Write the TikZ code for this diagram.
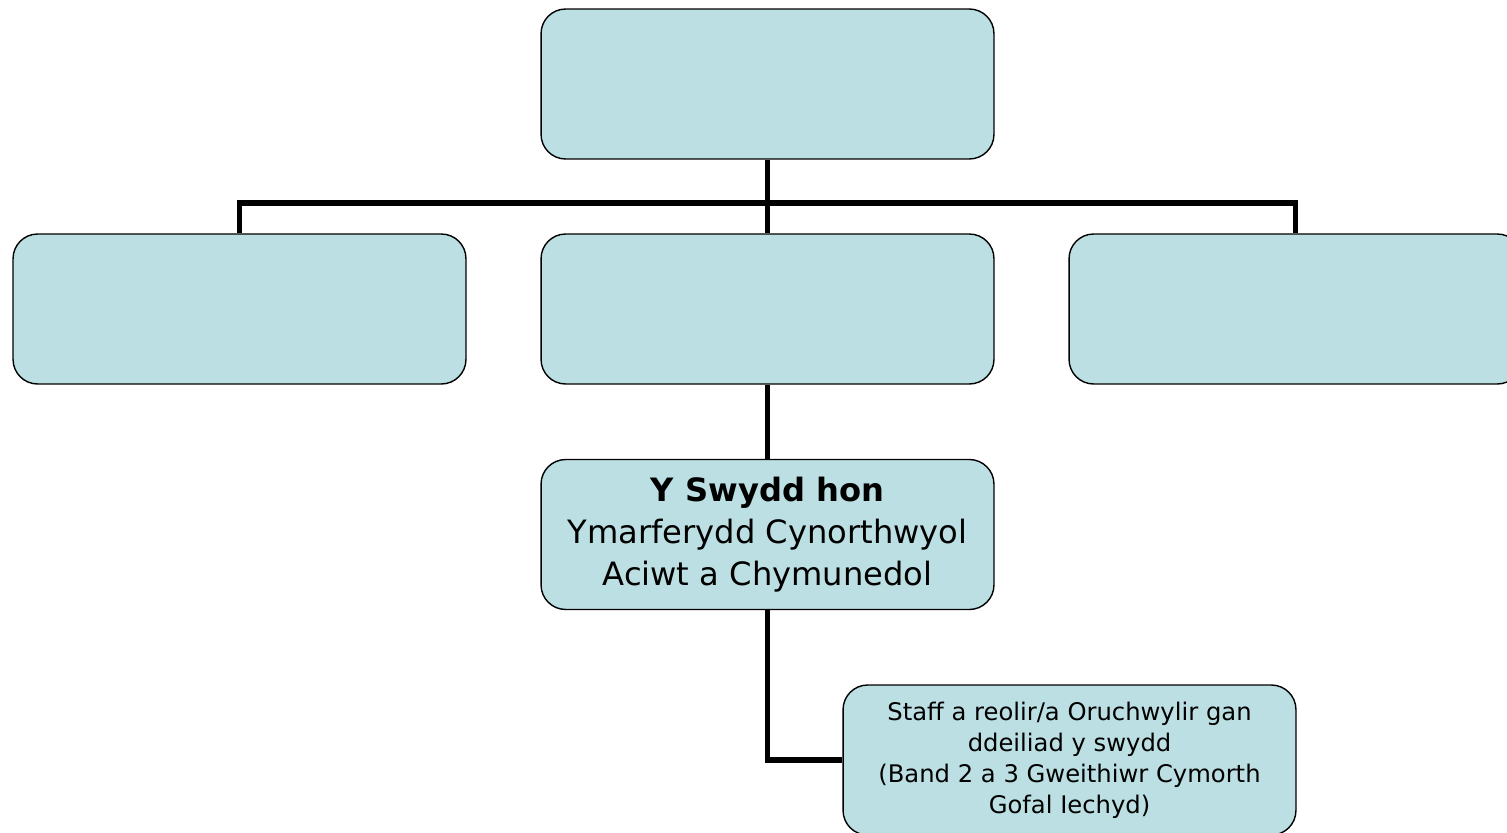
\documentclass[tikz,border=0pt]{standalone}
\usepackage{fontspec}
\setmainfont{DejaVu Sans}
\usepackage{xcolor}
\usepackage{tikz}
\usetikzlibrary{positioning, calc}
\definecolor{boxfill}{HTML}{BBDFE2}
\tikzset{
	orgbox/.style={draw, line width=0.8pt, fill=boxfill, rounded corners=14pt,
		minimum width=9.06cm, minimum height=3cm, align=center, inner sep=0pt},
	orgline/.style={line width=3.2pt, line join=miter}
}

\begin{document}
\begin{tikzpicture}[x=0.02cm, y=-0.02cm]
	\useasboundingbox (0,0) rectangle (1507,832);
	\coordinate (bar) at (767.5,203);
	\node[orgbox] (top) at (767.5,84) {};
	\node[orgbox] (left) at (239.5,309) {};
	\node[orgbox] (mid) at (767.5,309) {};
	\node[orgbox] (right) at (1295.5,309) {};
	\node[orgbox, font=\fontsize{18.3}{23.8}\selectfont] (swydd) at (767.5,534.5)
		{\textbf{Y Swydd hon}\\Ymarferydd Cynorthwyol\\Aciwt a Chymunedol};
	\node[orgbox, font=\fontsize{13.8}{17.6}\selectfont] (staff) at (1069.5,760)
		{Staff a reolir/a Oruchwylir gan\\ddeiliad y swydd\\(Band 2 a 3 Gweithiwr Cymorth\\Gofal Iechyd)};
	% connectors
	\draw[orgline] (top.south) -- (mid.north);
	\draw[orgline] (left.north) -- (left.north |- bar) -- (right.north |- bar) -- (right.north);
	\draw[orgline] (mid.south) -- (swydd.north);
	\draw[orgline] (swydd.south) |- (staff.west);
\end{tikzpicture}
\end{document}
